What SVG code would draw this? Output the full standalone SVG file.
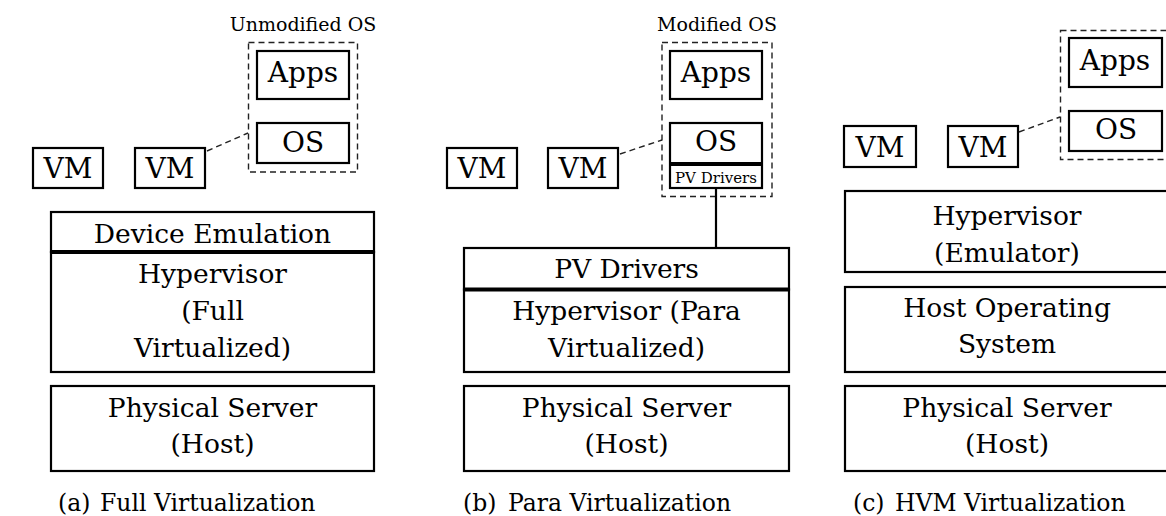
<svg xmlns="http://www.w3.org/2000/svg" width="1166" height="516" viewBox="0 0 1166 516">
<style>
.box{fill:#fff;stroke:#000;stroke-width:2.2}
.thick{stroke:#000;stroke-width:4}
.dbox{fill:none;stroke:#222;stroke-width:1.4;stroke-dasharray:6 4}
.dline{fill:none;stroke:#222;stroke-width:1.4;stroke-dasharray:6 4}
.sline{fill:none;stroke:#000;stroke-width:2.2}
text{font-family:"DejaVu Serif","Liberation Serif",serif;fill:#000;text-anchor:middle}
.lay{font-size:26.5px}
.lbl{font-size:28px}
.sm{font-size:15px}
.os{font-size:19px}
.cap{font-size:23.5px;text-anchor:start}
</style>
<rect width="1166" height="516" fill="#fff"/>

<!-- Panel (a) -->
<g id="a-guest">
<rect class="dbox" x="248.5" y="42.5" width="109" height="129.5"/>
<text class="os" x="303" y="31">Unmodified OS</text>
</g>
<g id="a-apps"><rect class="box" x="257" y="51" width="92" height="48"/><text class="lbl" x="303" y="82">Apps</text></g>
<g id="a-os"><rect class="box" x="257" y="123" width="92" height="40"/><text class="lbl" x="303" y="152">OS</text></g>
<g id="a-vm1"><rect class="box" x="33" y="148" width="70" height="40"/><text class="lbl" x="68" y="178">VM</text></g>
<g id="a-vm2"><rect class="box" x="135" y="148" width="70" height="40"/><text class="lbl" x="170" y="178">VM</text></g>
<g id="a-devemu"><rect class="box" x="51" y="212" width="323" height="40"/><text class="lay" x="212.5" y="243">Device Emulation</text></g>
<g id="a-hyp"><rect class="box" x="51" y="252" width="323" height="120"/><line class="thick" x1="50" y1="252" x2="375" y2="252"/>
<text class="lay" x="212.5" y="283">Hypervisor</text><text class="lay" x="212.5" y="320">(Full</text><text class="lay" x="212.5" y="357">Virtualized)</text></g>
<g id="a-phys"><rect class="box" x="51" y="386" width="323" height="85"/><text class="lay" x="212.5" y="417">Physical Server</text><text class="lay" x="212.5" y="453">(Host)</text></g>
<g id="a-caption"><text class="cap" y="511"><tspan x="58">(a)</tspan><tspan x="100">Full Virtualization</tspan></text></g>

<!-- Panel (b) -->
<g id="b-guest">
<rect class="dbox" x="662" y="42.5" width="110" height="154"/>
<text class="os" x="717" y="31">Modified OS</text>
</g>
<g id="b-apps"><rect class="box" x="670" y="51" width="92" height="48"/><text class="lbl" x="716" y="82">Apps</text></g>
<g id="b-os"><rect class="box" x="670" y="123" width="92" height="65"/><line class="thick" x1="669" y1="164" x2="763" y2="164"/>
<text class="lbl" x="716" y="151">OS</text><text class="sm" x="716" y="183">PV Drivers</text></g>
<g id="b-vm1"><rect class="box" x="447" y="148" width="70" height="40"/><text class="lbl" x="482" y="178">VM</text></g>
<g id="b-vm2"><rect class="box" x="548" y="148" width="70" height="40"/><text class="lbl" x="583" y="178">VM</text></g>
<g id="b-pv"><rect class="box" x="464" y="248" width="325" height="41.5"/><text class="lay" x="626.5" y="278">PV Drivers</text></g>
<g id="b-hyp"><rect class="box" x="464" y="289.5" width="325" height="82.5"/><line class="thick" x1="463" y1="289.5" x2="790" y2="289.5"/>
<text class="lay" x="626.5" y="320">Hypervisor (Para</text><text class="lay" x="626.5" y="357">Virtualized)</text></g>
<g id="b-phys"><rect class="box" x="464" y="386" width="325" height="85"/><text class="lay" x="626.5" y="417">Physical Server</text><text class="lay" x="626.5" y="453">(Host)</text></g>
<g id="b-caption"><text class="cap" y="511"><tspan x="463">(b)</tspan><tspan x="508">Para Virtualization</tspan></text></g>

<!-- Panel (c) -->
<g id="c-guest"><rect class="dbox" x="1060.5" y="30.5" width="112" height="129"/></g>
<g id="c-apps"><rect class="box" x="1069" y="38" width="93" height="49"/><text class="lbl" x="1115" y="70">Apps</text></g>
<g id="c-os"><rect class="box" x="1069" y="111" width="93" height="40"/><text class="lbl" x="1116" y="139">OS</text></g>
<g id="c-vm1"><rect class="box" x="844" y="126" width="72" height="41"/><text class="lbl" x="880" y="157">VM</text></g>
<g id="c-vm2"><rect class="box" x="948" y="126" width="70" height="41"/><text class="lbl" x="983" y="157">VM</text></g>
<g id="c-hyp"><rect class="box" x="845" y="191" width="325" height="81"/><text class="lay" x="1007" y="225">Hypervisor</text><text class="lay" x="1007" y="262">(Emulator)</text></g>
<g id="c-hostos"><rect class="box" x="845" y="287" width="325" height="85"/><text class="lay" x="1007" y="317">Host Operating</text><text class="lay" x="1007" y="353">System</text></g>
<g id="c-phys"><rect class="box" x="845" y="386" width="325" height="85"/><text class="lay" x="1007" y="417">Physical Server</text><text class="lay" x="1007" y="453">(Host)</text></g>
<g id="c-caption"><text class="cap" y="511"><tspan x="853">(c)</tspan><tspan x="895">HVM Virtualization</tspan></text></g>

<!-- Connectors -->
<g id="connectors">
<line class="dline" x1="207" y1="151" x2="248" y2="133"/>
<line class="dline" x1="620" y1="154" x2="662" y2="140"/>
<line class="dline" x1="1019" y1="132" x2="1060" y2="117"/>
<line class="sline" x1="716" y1="189" x2="716" y2="247"/>
</g>
</svg>
